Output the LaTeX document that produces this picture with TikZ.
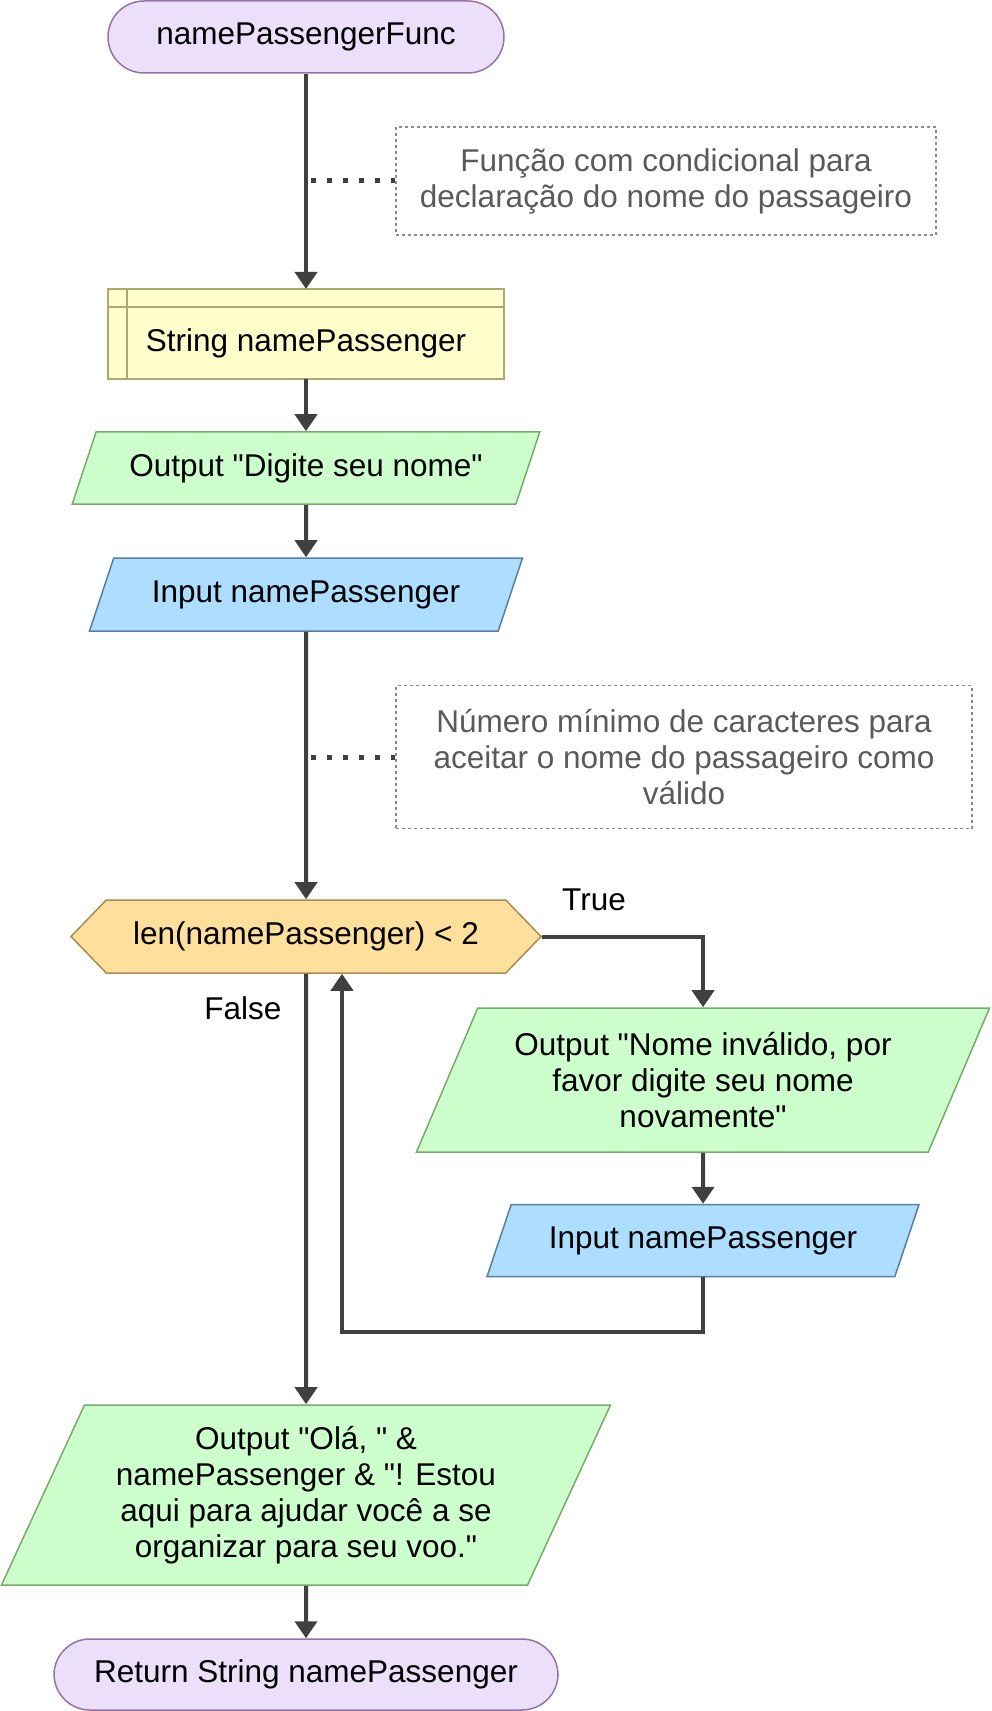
\documentclass[tikz,border=0pt]{standalone}
\usepackage{fontspec}
\setmainfont{Liberation Sans}[Ligatures=TeXOff]
\usepackage{tikz}
\usetikzlibrary{shapes.geometric, shapes.symbols, arrows.meta, positioning}
\definecolor{flowline}{RGB}{64,64,64}
\definecolor{termfill}{RGB}{235,223,250}
\definecolor{termdraw}{RGB}{150,115,166}
\definecolor{declfill}{RGB}{255,255,204}
\definecolor{decldraw}{RGB}{170,170,110}
\definecolor{outfill}{RGB}{204,255,204}
\definecolor{outdraw}{RGB}{122,170,106}
\definecolor{infill}{RGB}{173,222,255}
\definecolor{indraw}{RGB}{88,126,160}
\definecolor{condfill}{RGB}{255,223,155}
\definecolor{conddraw}{RGB}{168,140,80}
\definecolor{notedraw}{RGB}{140,140,140}
\definecolor{notetext}{RGB}{90,90,90}
\newcommand{\chartfont}{\fontsize{15.75}{18}\selectfont}
\tikzset{
  term/.style={rectangle, draw=termdraw, fill=termfill,
    minimum width=198pt, minimum height=36pt, rounded corners=18pt,
    font=\chartfont, line width=0.75pt},
  declbox/.style={rectangle, draw=decldraw, fill=declfill,
    minimum width=198pt, minimum height=45pt, outer sep=0pt,
    text height=21pt, text depth=3.5pt,
    font=\chartfont, line width=0.75pt},
  declline/.style={draw=decldraw, line width=0.75pt},
  outbox/.style={trapezium, trapezium left angle=64, trapezium right angle=116,
    trapezium stretches=true, draw=outdraw, fill=outfill, align=center,
    minimum width=234.5pt, minimum height=36pt,
    font=\chartfont, line width=0.75pt},
  inbox/.style={trapezium, trapezium left angle=64, trapezium right angle=116,
    trapezium stretches=true, draw=indraw, fill=infill, align=center,
    minimum width=216.5pt, minimum height=36.5pt,
    font=\chartfont, line width=0.75pt},
  condbox/.style={signal, signal to=west and east, signal pointer angle=92,
    draw=conddraw, fill=condfill, minimum width=235pt, minimum height=36.5pt,
    font=\chartfont, line width=0.75pt},
  notebox/.style={rectangle, draw=notedraw, dash pattern=on 1.5pt off 1.5pt,
    line width=0.6pt, text=notetext, align=center, font=\chartfont},
  noteline/.style={draw=flowline, line width=2.5pt, dash pattern=on 2.5pt off 5.5pt},
  arrow/.style={-{Triangle[length=8.5pt, width=11pt]}, line width=2pt, draw=flowline},
  lbl/.style={font=\chartfont}
}
\begin{document}
\begin{tikzpicture}[x=0.5pt, y=-0.5pt]
  \useasboundingbox (0,0) rectangle (991,1711);
  % main column
  \node[term] (start) at (306,37) {namePassengerFunc};
  \node[declbox] (decl) at (306,334) {String namePassenger};
  \draw[declline] ([xshift=9.5pt]decl.north west) -- ([xshift=9.5pt]decl.south west);
  \draw[declline] ([yshift=-9pt]decl.north west) -- ([yshift=-9pt]decl.north east);
  \node[outbox] (out1) at (306,468) {Output "Digite seu nome"};
  \node[inbox] (in1) at (306,594.5) {Input namePassenger};
  \node[condbox] (cond) at (306,936.5) {len(namePassenger) < 2};
  \node[outbox, minimum width=305pt, minimum height=90pt] (out3) at (306,1495)
    {Output "Olá, " \&\\namePassenger \& "! Estou\\aqui para ajudar você a se\\organizar para seu voo."};
  \node[term, minimum width=252pt, minimum height=35.5pt] (ret) at (306,1674.5) {Return String namePassenger};

  % true branch
  \node[outbox, minimum width=287.5pt, minimum height=72pt] (out2) at (703,1080)
    {Output "Nome inválido, por\\favor digite seu nome\\novamente"};
  \node[inbox, minimum width=216pt, minimum height=36pt, below=25.5pt of out2] (in2) {Input namePassenger};

  % comments
  \node[notebox, minimum width=270pt, minimum height=54pt] (note1) at (666,181)
    {Função com condicional para\\declaração do nome do passageiro};
  \node[notebox, minimum width=288pt, minimum height=71.5pt] (note2) at (684,757)
    {Número mínimo de caracteres para\\aceitar o nome do passageiro como\\válido};

  \draw[arrow] (start) -- (decl);
  \draw[arrow] (decl) -- (out1);
  \draw[arrow] (out1) -- (in1);
  \draw[arrow] (in1) -- (cond);
  \draw[arrow] (cond.east) -| (out2.north);
  \draw[arrow] (out2) -- (in2);
  \draw[arrow] (in2.south) -- ++(0,55) -| ([xshift=18pt]cond.south);
  \draw[arrow] (cond) -- (out3);
  \draw[arrow] (out3) -- (ret);
  \draw[noteline] ([xshift=2.5pt]start.south |- note1.west) -- (note1.west);
  \draw[noteline] ([xshift=2.5pt]start.south |- note2.west) -- (note2.west);

  \node[lbl] (truelbl) at (594,900) {True};
  \node[lbl] (falselbl) at (243,1008) {False};
\end{tikzpicture}
\end{document}
